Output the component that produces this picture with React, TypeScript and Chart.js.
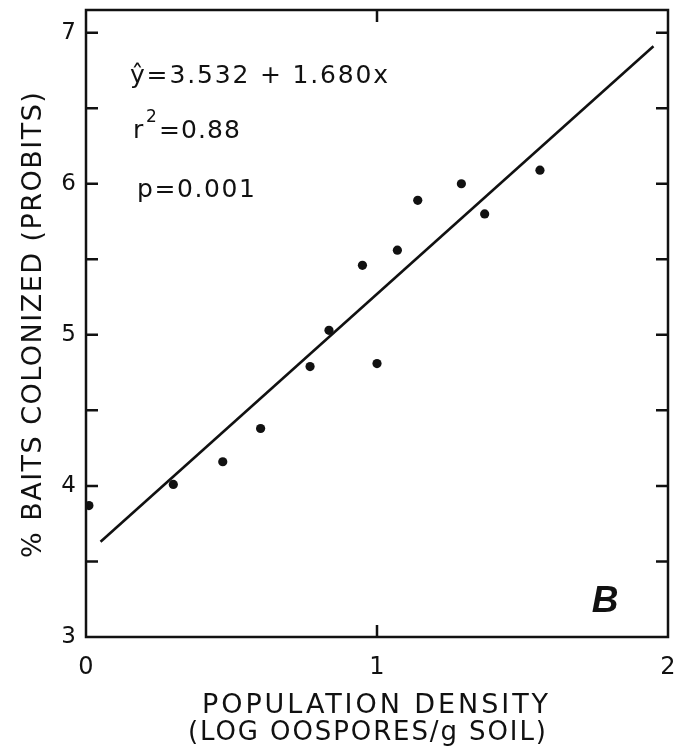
import React, { useEffect, useRef } from "react";
import { Chart, registerables } from "chart.js";

Chart.register(...registerables);

// ---- data ----
const popDensity = [0.01, 0.3, 0.47, 0.6, 0.77, 0.835, 0.95, 1.0, 1.07, 1.14, 1.29, 1.37, 1.56];
const baitsProbit = [3.87, 4.01, 4.16, 4.38, 4.79, 5.03, 5.46, 4.81, 5.56, 5.89, 6.0, 5.8, 6.09];
const fitX = [0.05, 1.95];
const fitY = [3.63, 6.91];
const xTickValues = [0, 1, 2];
const xTickLabels = ["0", "1", "2"];
const yTickValues = [3, 4, 5, 6, 7];
const yTickLabels = ["3", "4", "5", "6", "7"];
const yMarkTicks = [3.5, 4, 4.5, 5, 5.5, 6, 6.5, 7];
const xMarkTicks = [1];
const xTitleLines = ["POPULATION DENSITY", "(LOG OOSPORES/g SOIL)"];
const yTitle = "% BAITS COLONIZED (PROBITS)";
const equationText = "ŷ=3.532 + 1.680x";
const r2Base = "r";
const r2Sup = "2";
const r2Value = "=0.88";
const pText = "p=0.001";
const panelLabel = "B";

const FONT = "'DejaVu Sans', 'Liberation Sans', sans-serif";
const INK = "#111111";

function drawFitted(ctx: CanvasRenderingContext2D, text: string, left: number, right: number, baseline: number, font: string) {
  ctx.save();
  ctx.font = font;
  (ctx as any).letterSpacing = "0px";
  const w = ctx.measureText(text).width;
  const n = Array.from(text).length;
  const ls = n > 1 ? (right - left - w) / (n - 1) : 0;
  (ctx as any).letterSpacing = ls.toFixed(2) + "px";
  ctx.textAlign = "left";
  ctx.textBaseline = "alphabetic";
  ctx.fillStyle = INK;
  ctx.fillText(text, left, baseline);
  ctx.restore();
}

const framePlugin = {
  id: "framePlugin",
  afterDraw(chart: any) {
    const ctx: CanvasRenderingContext2D = chart.ctx;
    const { left, right, top, bottom } = chart.chartArea;
    const xs = chart.scales.x;
    const ys = chart.scales.y;
    ctx.save();
    ctx.strokeStyle = INK;
    ctx.lineWidth = 2.5;
    ctx.lineCap = "butt";
    ctx.beginPath();
    ctx.moveTo(left, top);
    ctx.lineTo(right, top);
    ctx.lineTo(right, bottom);
    ctx.lineTo(left, bottom);
    ctx.closePath();
    ctx.stroke();
    const tl = 12;
    ctx.beginPath();
    yMarkTicks.forEach((v) => {
      const py = ys.getPixelForValue(v);
      ctx.moveTo(left, py);
      ctx.lineTo(left + tl, py);
      ctx.moveTo(right, py);
      ctx.lineTo(right - tl, py);
    });
    xMarkTicks.forEach((v) => {
      const px = xs.getPixelForValue(v);
      ctx.moveTo(px, bottom);
      ctx.lineTo(px, bottom - tl);
      ctx.moveTo(px, top);
      ctx.lineTo(px, top + tl);
    });
    ctx.stroke();
    ctx.restore();

    // axis titles
    drawFitted(ctx, xTitleLines[0], 202, 548, 713, `27px ${FONT}`);
    drawFitted(ctx, xTitleLines[1], 188, 546, 740, `26px ${FONT}`);
    ctx.save();
    ctx.translate(41, 325);
    ctx.rotate(-Math.PI / 2);
    drawFitted(ctx, yTitle, -233, 233, 0, `27px ${FONT}`);
    ctx.restore();

    // statistics
    drawFitted(ctx, equationText, 130, 388, 83, `25px ${FONT}`);
    drawFitted(ctx, r2Base, 133, 142, 138, `25px ${FONT}`);
    drawFitted(ctx, r2Sup, 146, 157, 122, `17px ${FONT}`);
    drawFitted(ctx, r2Value, 159, 240, 138, `25px ${FONT}`);
    drawFitted(ctx, pText, 137, 255, 197, `25px ${FONT}`);

    // panel label
    ctx.save();
    ctx.font = `italic bold 37px 'Liberation Sans', Arial, sans-serif`;
    ctx.fillStyle = INK;
    ctx.textAlign = "center";
    ctx.textBaseline = "alphabetic";
    ctx.fillText(panelLabel, 605, 612);
    ctx.restore();
  },
};

export default function App() {
  const canvasRef = useRef<HTMLCanvasElement | null>(null);

  useEffect(() => {
    const canvas = canvasRef.current;
    if (!canvas) return;
    const points = popDensity.map((x, i) => ({ x, y: baitsProbit[i] }));
    const fit = fitX.map((x, i) => ({ x, y: fitY[i] }));

    const chart = new Chart(canvas, {
      type: "scatter",
      data: {
        datasets: [
          {
            label: "fit",
            data: fit,
            showLine: true,
            borderColor: INK,
            borderWidth: 2.6,
            pointRadius: 0,
            fill: false,
          },
          {
            label: "observed",
            data: points,
            pointRadius: 4.6,
            pointBackgroundColor: INK,
            pointBorderWidth: 0,
            borderColor: INK,
            showLine: false,
          },
        ],
      },
      options: {
        responsive: false,
        animation: false,
        events: [],
        layout: { padding: 0 },
        plugins: {
          legend: { display: false },
          tooltip: { enabled: false },
          title: { display: false },
        },
        scales: {
          x: {
            type: "linear",
            position: "bottom",
            min: 0,
            max: 2,
            grid: { display: false, drawTicks: false },
            border: { display: false },
            afterBuildTicks: (s: any) => {
              s.ticks = xTickValues.map((v) => ({ value: v }));
            },
            ticks: {
              autoSkip: false,
              maxRotation: 0,
              padding: 16,
              color: INK,
              font: { family: FONT, size: 24 },
              callback: (_v: any, i: number) => xTickLabels[i],
            },
            afterFit: (s: any) => {
              s.height = 115;
              s.paddingLeft = 0;
              s.paddingRight = 0;
            },
          },
          x2: {
            type: "linear",
            position: "top",
            min: 0,
            max: 2,
            grid: { display: false, drawTicks: false },
            border: { display: false },
            ticks: { display: false },
            afterFit: (s: any) => {
              s.height = 10;
              s.paddingLeft = 0;
              s.paddingRight = 0;
            },
          },
          y: {
            type: "linear",
            position: "left",
            min: 3,
            max: 7.15,
            grid: { display: false, drawTicks: false },
            border: { display: false },
            afterBuildTicks: (s: any) => {
              s.ticks = yTickValues.map((v) => ({ value: v }));
            },
            ticks: {
              autoSkip: false,
              padding: 10,
              color: INK,
              font: { family: FONT, size: 23 },
              callback: (_v: any, i: number) => yTickLabels[i],
            },
            afterFit: (s: any) => {
              s.width = 86;
              s.paddingTop = 0;
              s.paddingBottom = 0;
            },
          },
          y2: {
            type: "linear",
            position: "right",
            min: 3,
            max: 7.15,
            grid: { display: false, drawTicks: false },
            border: { display: false },
            ticks: { display: false },
            afterFit: (s: any) => {
              s.width = 13;
              s.paddingTop = 0;
              s.paddingBottom = 0;
            },
          },
        },
      },
      plugins: [framePlugin],
    });

    return () => {
      chart.destroy();
    };
  }, []);

  return (
    <div style={{ position: "fixed", left: 0, top: 0, width: 681, height: 752, background: "#fff" }}>
      <canvas ref={canvasRef} width={681} height={752} style={{ display: "block" }} />
    </div>
  );
}
